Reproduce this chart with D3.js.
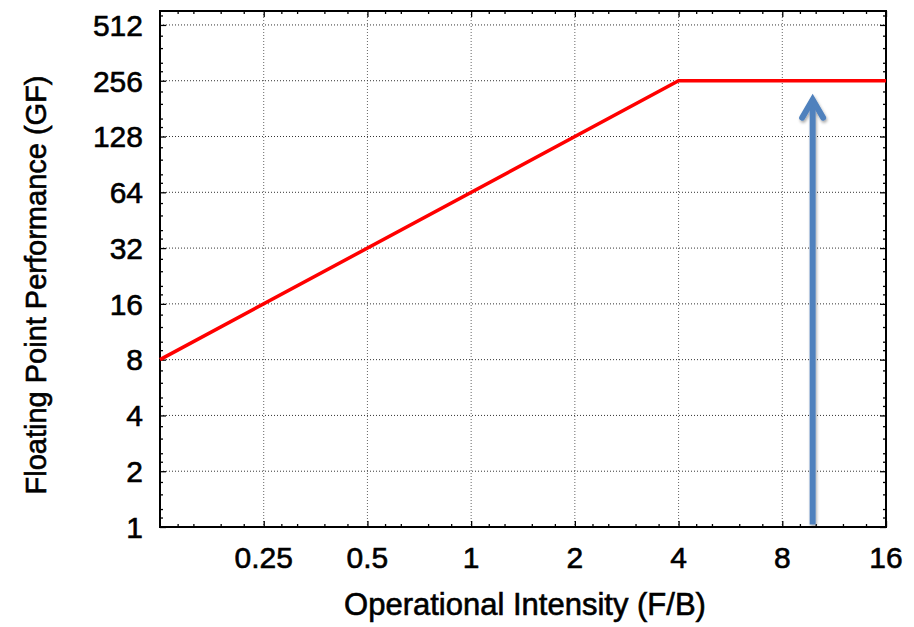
<!DOCTYPE html>
<html><head><meta charset="utf-8">
<script src="https://cdn.jsdelivr.net/npm/d3@7"></script>
<style>
body{margin:0;background:#fff;}
text{font-family:"Liberation Sans",Arial,Helvetica,sans-serif;fill:#000;stroke:#000;stroke-width:0.6px;}
</style></head>
<body><svg id="c" width="914" height="627"></svg>
<script>
// Data
const xTicks = [0.25, 0.5, 1, 2, 4, 8, 16];
const xTickLabels = ["0.25", "0.5", "1", "2", "4", "8", "16"];
const yTicks = [1, 2, 4, 8, 16, 32, 64, 128, 256, 512];
const yTickLabels = ["1", "2", "4", "8", "16", "32", "64", "128", "256", "512"];
const rooflineX = [0.125, 4, 16];
const rooflineY = [8, 256, 256];
const arrowX = [9.8, 9.8];
const arrowY = [1.03, 210];
const minorMult = [1.125, 1.25, 1.5, 1.75];

const svg = d3.select("#c");
const L = 160, R = 886, T = 11, B = 527;
const x = d3.scaleLog().base(2).domain([0.125, 16]).range([L, R]);
const y = d3.scaleLog().base(2).domain([1, Math.pow(2, 9.25)]).range([B, T]);

const xMinor = [], yMinor = [];
for (let k = -3; k < 4; k++) minorMult.forEach(m => xMinor.push(Math.pow(2, k) * m));
for (let k = 0; k < 10; k++) minorMult.forEach(m => { const v = Math.pow(2, k) * m; if (v < y.domain()[1]) yMinor.push(v); });

const defs = svg.append("defs");
const f = defs.append("filter").attr("id", "sh").attr("x", "-50%").attr("y", "-10%").attr("width", "200%").attr("height", "120%");
f.append("feDropShadow").attr("dx", 1).attr("dy", 2).attr("stdDeviation", 1.8).attr("flood-color", "#000").attr("flood-opacity", 0.35);

// grid
const g = svg.append("g");
g.selectAll(".gx").data(xTicks.slice(0, -1)).join("line")
  .attr("x1", d => x(d)).attr("x2", d => x(d)).attr("y1", T).attr("y2", B)
  .attr("stroke", "#666").attr("stroke-width", 1).attr("stroke-dasharray", "1,2");
g.selectAll(".gy").data(yTicks.slice(1)).join("line")
  .attr("y1", d => y(d)).attr("y2", d => y(d)).attr("x1", L).attr("x2", R)
  .attr("stroke", "#333").attr("stroke-width", 1).attr("stroke-dasharray", "1,2");

// axes with inward ticks
svg.append("g").attr("transform", `translate(0,${B})`)
  .call(d3.axisTop(x).tickValues(xMinor).tickSize(3).tickFormat(""));
svg.append("g").attr("transform", `translate(0,${B})`)
  .call(d3.axisTop(x).tickValues(xTicks).tickSize(6).tickFormat(""));
svg.append("g").attr("transform", `translate(0,${T})`)
  .call(d3.axisBottom(x).tickValues(xMinor).tickSize(3).tickFormat(""));
svg.append("g").attr("transform", `translate(0,${T})`)
  .call(d3.axisBottom(x).tickValues(xTicks).tickSize(6).tickFormat(""));
svg.append("g").attr("transform", `translate(${L},0)`)
  .call(d3.axisRight(y).tickValues(yMinor).tickSize(3).tickFormat(""));
svg.append("g").attr("transform", `translate(${L},0)`)
  .call(d3.axisRight(y).tickValues(yTicks).tickSize(6).tickFormat(""));
svg.append("g").attr("transform", `translate(${R},0)`)
  .call(d3.axisLeft(y).tickValues(yMinor).tickSize(3).tickFormat(""));
svg.append("g").attr("transform", `translate(${R},0)`)
  .call(d3.axisLeft(y).tickValues(yTicks).tickSize(6).tickFormat(""));
svg.selectAll(".domain").remove();
svg.selectAll(".tick line").attr("stroke", "#000").attr("stroke-width", 1.3);

// tick labels
svg.append("g").selectAll("text").data(xTicks).join("text")
  .attr("x", d => x(d)).attr("y", 568).attr("text-anchor", "middle")
  .attr("font-size", 30).text((d, i) => xTickLabels[i]);
svg.append("g").selectAll("text").data(yTicks).join("text")
  .attr("x", 143).attr("y", d => y(d)).attr("dy", "0.36em").attr("text-anchor", "end")
  .attr("font-size", 30).text((d, i) => yTickLabels[i]);

// frame
svg.append("rect").attr("x", L).attr("y", T).attr("width", R - L).attr("height", B - T)
  .attr("fill", "none").attr("stroke", "#000").attr("stroke-width", 2);

// roofline
const line = d3.line().x(d => x(d[0])).y(d => y(d[1]));
svg.append("path").datum(rooflineX.map((v, i) => [v, rooflineY[i]]))
  .attr("d", line).attr("fill", "none").attr("stroke", "#ff0000").attr("stroke-width", 3.5);

// arrow
const ag = svg.append("g").attr("filter", "url(#sh)");
const ax0 = x(arrowX[0]), ay0 = y(arrowY[0]);
const tipY = y(arrowY[1]);
ag.append("line").attr("x1", ax0).attr("x2", ax0).attr("y1", ay0).attr("y2", tipY + 3)
  .attr("stroke", "#4F81BD").attr("stroke-width", 6);
ag.append("path").attr("d", `M${ax0 - 10.5},${tipY + 21} L${ax0},${tipY + 3} L${ax0 + 10.5},${tipY + 21}`)
  .attr("fill", "none").attr("stroke", "#4F81BD").attr("stroke-width", 6)
  .attr("stroke-linecap", "round").attr("stroke-linejoin", "miter");

// axis titles
svg.append("text").attr("x", 525).attr("y", 615).attr("text-anchor", "middle")
  .attr("font-size", 31).text("Operational Intensity (F/B)");
svg.append("text").attr("transform", "translate(46,285) rotate(-90)").attr("text-anchor", "middle")
  .attr("font-size", 29).text("Floating Point Performance (GF)");
</script></body></html>
